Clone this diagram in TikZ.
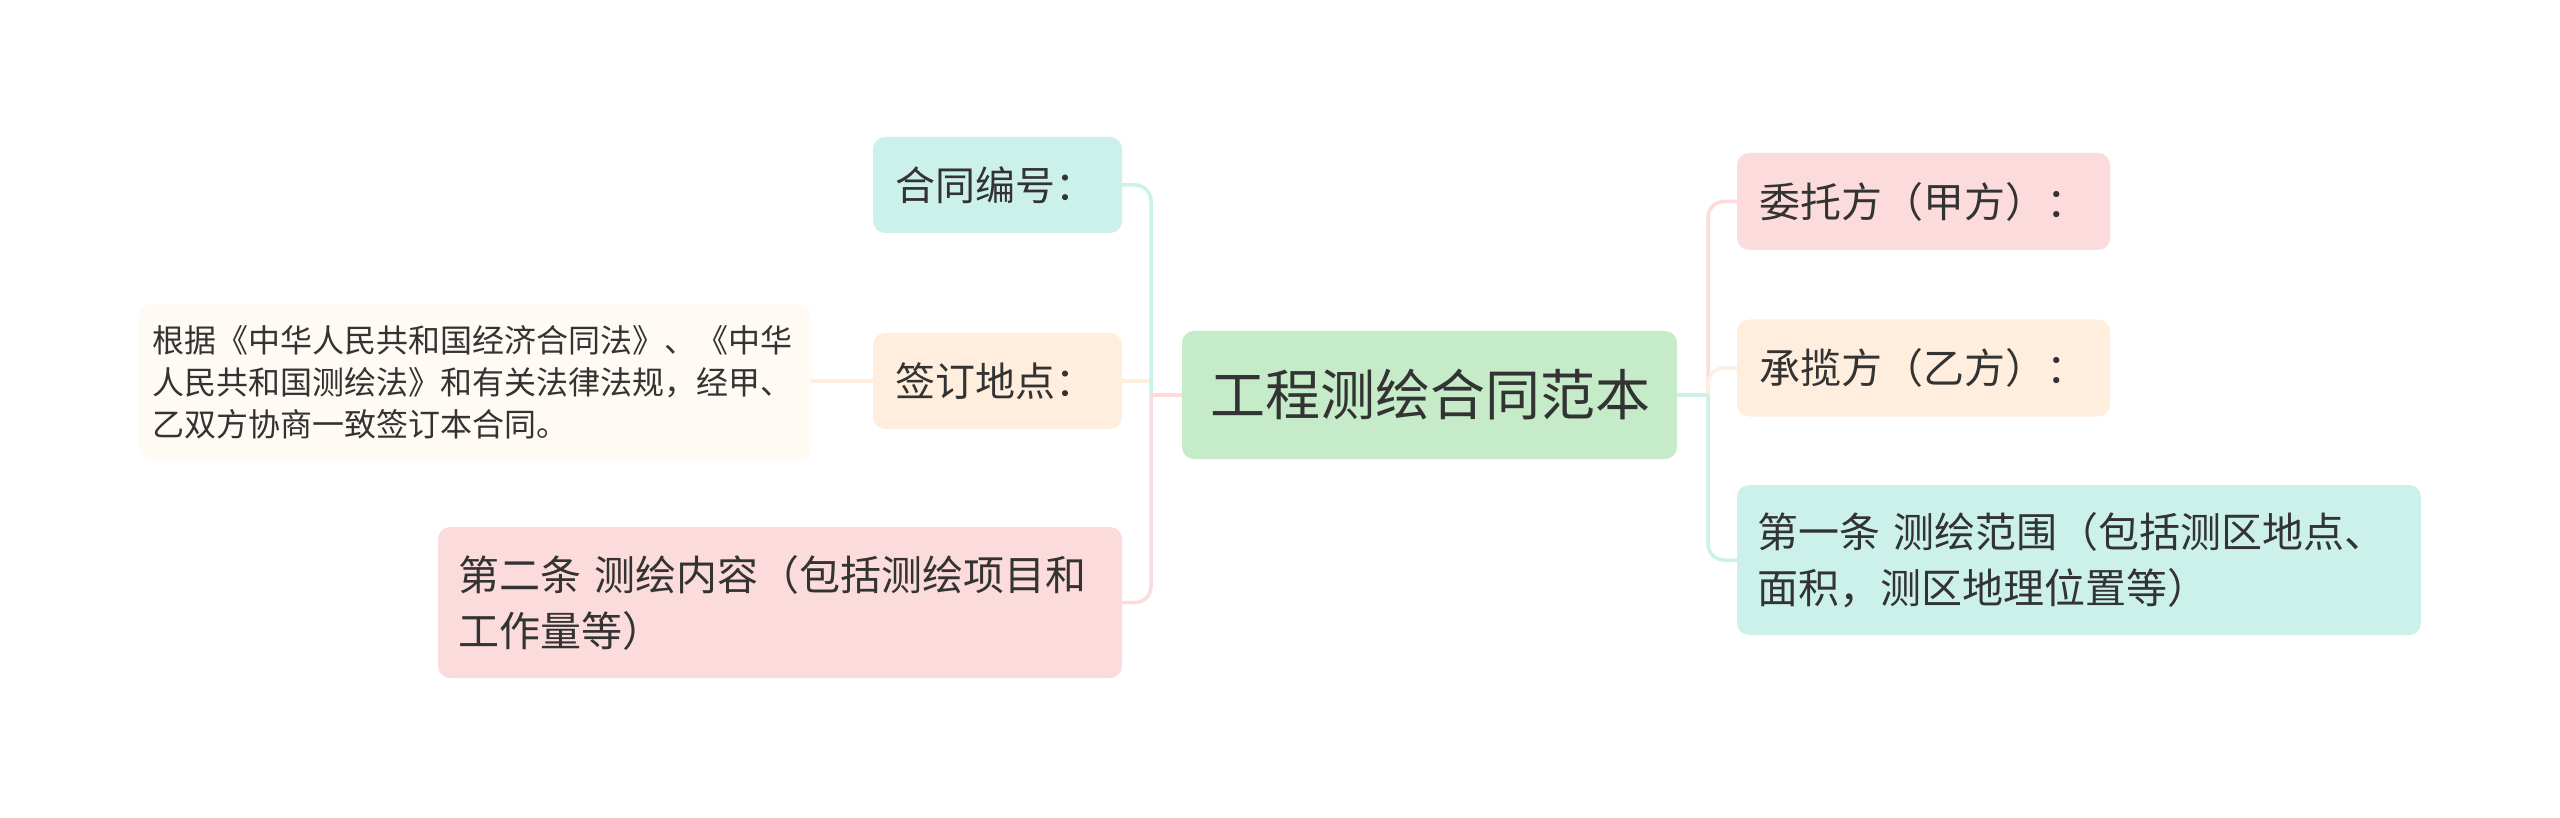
\documentclass[tikz,border=0pt]{standalone}
\usepackage{fontspec}
\setmainfont{Noto Sans CJK SC}
\definecolor{txt}{HTML}{333333}
\definecolor{cgreen}{HTML}{C5EBC9}
\definecolor{ccyan}{HTML}{CCF0EA}
\definecolor{cpeach}{HTML}{FFEEDE}
\definecolor{cpink}{HTML}{FBDBDB}
\definecolor{ccream}{HTML}{FFFAF3}
\begin{document}
\begin{tikzpicture}[x=1pt,y=-1pt,
  box/.style={rounded corners=12pt, inner ysep=0pt, align=left, text=txt, font=\fontsize{41}{56}\selectfont},
  conn/.style={line width=3.5pt, rounded corners=16pt}]
\useasboundingbox[fill=white] (0,0) rectangle (2560,818);

\node[box, fill=cgreen, minimum height=128pt, text width=439pt, inner xsep=28pt, align=center, font=\fontsize{55}{66}\selectfont] (c) at (1429.5,395) {工程测绘合同范本};

\node[box, fill=ccyan, minimum height=96pt, text width=205pt, inner xsep=22pt, font=\fontsize{40}{56}\selectfont] (k1) at (997.5,185) {合同编号：};
\node[box, fill=cpeach, minimum height=96pt, text width=205pt, inner xsep=22pt, font=\fontsize{40}{56}\selectfont] (k2) at (997.5,381) {签订地点：};
\node[box, fill=ccream, minimum height=156pt, text width=645pt, inner xsep=13.5pt, font=\fontsize{32}{42}\selectfont] (L) at (475,382) {根据《中华人民共和国经济合同法》、《中华\\人民共和国测绘法》和有关法律法规，经甲、\\乙双方协商一致签订本合同。};
\node[box, fill=cpink, minimum height=151pt, text width=644pt, inner xsep=20pt] (k3) at (780,602.5) {第二条 测绘内容（包括测绘项目和\\工作量等）};

\node[box, fill=cpink, minimum height=97pt, text width=329pt, inner xsep=22pt] (r1) at (1923.5,201.5) {委托方（甲方）：};
\node[box, fill=cpeach, minimum height=97pt, text width=329pt, inner xsep=22pt] (r2) at (1923.5,368) {承揽方（乙方）：};
\node[box, fill=ccyan, minimum height=150pt, text width=644pt, inner xsep=20pt] (r3) at (2079,560) {第一条 测绘范围（包括测区地点、\\面积，测区地理位置等）};

\coordinate (jl) at (1151,395);
\coordinate (jr) at (1708,395);

% left side
\draw[conn, cpeach] (k2.east) -- (jl |- k2.east);
\draw[conn, ccyan] (jl) |- (k1.east);
\draw[conn, cpink] (jl) |- (k3.east);
\draw[conn, cpink] (c.west) -- (jl);
\draw[conn, cpeach] (k2.west) -- (L.east |- k2.west);

% right side
\draw[conn, cpink] (jr) |- (r1.west);
\draw[conn, cpeach] (jr) |- (r2.west);
\draw[conn, ccyan] (jr) |- (r3.west);
\draw[conn, ccyan] (c.east) -- (jr);
\end{tikzpicture}
\end{document}
